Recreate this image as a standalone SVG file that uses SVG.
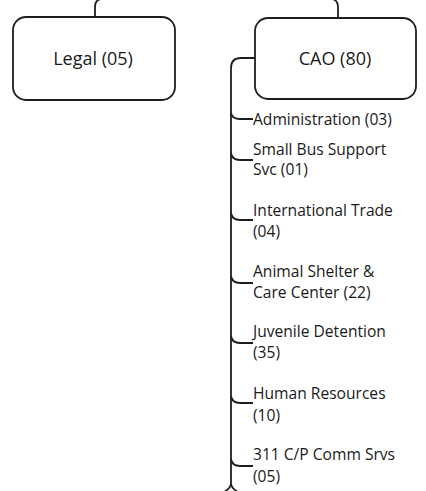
<svg xmlns="http://www.w3.org/2000/svg" width="426" height="491" viewBox="0 0 426 491">
<style>
.box{fill:#fff;stroke:#1e1e1e;stroke-width:1.8}
.ln{fill:none;stroke:#1e1e1e;stroke-width:1.8}
.t{font-family:"Open Sans","Noto Sans",sans-serif;fill:#1a1a1a}
.title{font-size:18px;text-anchor:middle;font-weight:500}
.lbl{font-size:15.6px;font-weight:500}
</style>
<rect width="426" height="491" fill="#fff"/>
<g id="connectors">
<path class="ln" d="M101,-1 Q95,0 95,7 L95,17"/>
<path class="ln" d="M332,-1 Q338,0 338,7 L338,18"/>
<path class="ln" d="M255,58 L241,58 Q231,58 231,68 L231,484"/>
<path class="ln" d="M231,484 Q230,489 224,492"/>
<path class="ln" d="M231,484 Q232,489 238,492"/>
<path class="ln" d="M231,113 Q232,119 240,119 L253,119"/>
<path class="ln" d="M231,153 Q232,160 240,160 L253,160"/>
<path class="ln" d="M231,213 Q232,220 240,220 L253,220"/>
<path class="ln" d="M231,276 Q232,283 240,283 L253,283"/>
<path class="ln" d="M231,336 Q232,343 240,343 L253,343"/>
<path class="ln" d="M231,396 Q232,403 240,403 L253,403"/>
<path class="ln" d="M231,459 Q232,466 240,466 L253,466"/>
</g>
<g id="legal">
<rect class="box" x="13" y="17" width="162" height="83" rx="13"/>
<text class="t title" x="93" y="65">Legal (05)</text>
</g>
<g id="cao">
<rect class="box" x="255" y="18" width="161" height="81" rx="13"/>
<text class="t title" x="335" y="65">CAO (80)</text>
</g>
<g id="administration"><text class="t lbl" x="253" y="125">Administration (03)</text></g>
<g id="small-bus"><text class="t lbl" x="253" y="155">Small Bus Support</text><text class="t lbl" x="253" y="175">Svc (01)</text></g>
<g id="intl-trade"><text class="t lbl" x="253" y="216">International Trade</text><text class="t lbl" x="253" y="237">(04)</text></g>
<g id="animal"><text class="t lbl" x="253" y="277">Animal Shelter &amp;</text><text class="t lbl" x="253" y="298">Care Center (22)</text></g>
<g id="juvenile"><text class="t lbl" x="253" y="337">Juvenile Detention</text><text class="t lbl" x="253" y="358">(35)</text></g>
<g id="hr"><text class="t lbl" x="253" y="399">Human Resources</text><text class="t lbl" x="253" y="421">(10)</text></g>
<g id="comm311"><text class="t lbl" x="253" y="460">311 C/P Comm Srvs</text><text class="t lbl" x="253" y="482">(05)</text></g>
</svg>
